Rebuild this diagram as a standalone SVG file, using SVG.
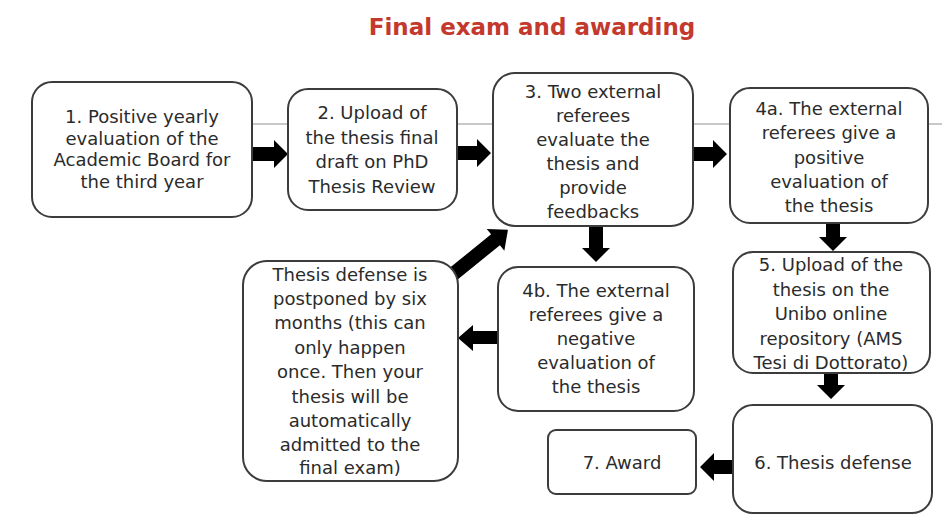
<svg xmlns="http://www.w3.org/2000/svg" width="942" height="515" viewBox="0 0 942 515">
<style>
.box{fill:#fff;stroke:#3c3c3c;stroke-width:2}
.t{font-family:"DejaVu Sans",sans-serif;font-size:18px;fill:#2b2b2b;text-anchor:middle}
.arr{fill:#000}
.title{font-family:"DejaVu Sans",sans-serif;font-weight:bold;font-size:23px;fill:#c4392d;text-anchor:middle}
</style>
<rect width="942" height="515" fill="#fff"/>
<line x1="252" y1="124" x2="942" y2="124" stroke="#c8c8c8" stroke-width="2"/>
<text class="title" x="532" y="35">Final exam and awarding</text>
<g id="connectors">
<polygon class="arr" points="252,147 274,147 274,140 288,154 274,168 274,161 252,161"/>
<polygon class="arr" points="457,146 477,146 477,139 491,153 477,167 477,160 457,160"/>
<polygon class="arr" points="693,147 713,147 713,140 727,154 713,168 713,161 693,161"/>
<polygon class="arr" points="826,223 840,223 840,237 847,237 833,251 819,237 826,237"/>
<polygon class="arr" points="589,226 603,226 603,248 610,248 596,262 582,248 589,248"/>
<polygon class="arr" points="498,331 473,331 473,325 458,338 473,351 473,344 498,344"/>
<polygon class="arr" points="824,373 838,373 838,385 845,385 831,399 817,385 824,385"/>
<polygon class="arr" points="733,460 714,460 714,453 700,467 714,481 714,474 733,474"/>
<polygon class="arr" transform="translate(452,275) rotate(-39)" points="0,-7 56,-7 56,-14 72,0 56,14 56,7 0,7"/>
</g>
<g id="n1">
<rect class="box" x="32" y="82" width="220" height="135" rx="20"/>
<text class="t"><tspan x="142" y="123">1. Positive yearly</tspan><tspan x="142" y="145">evaluation of the</tspan><tspan x="142" y="166">Academic Board for</tspan><tspan x="142" y="188">the third year</tspan></text>
</g>
<g id="n2">
<rect class="box" x="288" y="89" width="169" height="121" rx="20"/>
<text class="t"><tspan x="372" y="119">2. Upload of</tspan><tspan x="372" y="144">the thesis final</tspan><tspan x="372" y="168">draft on PhD</tspan><tspan x="372" y="193">Thesis Review</tspan></text>
</g>
<g id="n3">
<rect class="box" x="493" y="73" width="200" height="153" rx="22"/>
<text class="t"><tspan x="593" y="98">3. Two external</tspan><tspan x="593" y="122">referees</tspan><tspan x="593" y="146">evaluate the</tspan><tspan x="593" y="170">thesis and</tspan><tspan x="593" y="194">provide</tspan><tspan x="593" y="218">feedbacks</tspan></text>
</g>
<g id="n4a">
<rect class="box" x="730" y="88" width="198" height="135" rx="20"/>
<text class="t"><tspan x="829" y="115">4a. The external</tspan><tspan x="829" y="139">referees give a</tspan><tspan x="829" y="164">positive</tspan><tspan x="829" y="188">evaluation of</tspan><tspan x="829" y="212">the thesis</tspan></text>
</g>
<g id="n4b">
<rect class="box" x="498" y="267" width="196" height="144" rx="20"/>
<text class="t"><tspan x="596" y="297">4b. The external</tspan><tspan x="596" y="321">referees give a</tspan><tspan x="596" y="345">negative</tspan><tspan x="596" y="369">evaluation of</tspan><tspan x="596" y="393">the thesis</tspan></text>
</g>
<g id="npostponed">
<rect class="box" x="243" y="261" width="215" height="220" rx="24"/>
<text class="t"><tspan x="350" y="281">Thesis defense is</tspan><tspan x="350" y="305">postponed by six</tspan><tspan x="350" y="329">months (this can</tspan><tspan x="350" y="354">only happen</tspan><tspan x="350" y="378">once. Then your</tspan><tspan x="350" y="403">thesis will be</tspan><tspan x="350" y="427">automatically</tspan><tspan x="350" y="451">admitted to the</tspan><tspan x="350" y="474">final exam)</tspan></text>
</g>
<g id="n5">
<rect class="box" x="733" y="252" width="197" height="121" rx="20"/>
<text class="t"><tspan x="831" y="271">5. Upload of the</tspan><tspan x="831" y="296">thesis on the</tspan><tspan x="831" y="320">Unibo online</tspan><tspan x="831" y="345">repository (AMS</tspan><tspan x="831" y="369">Tesi di Dottorato)</tspan></text>
</g>
<g id="n6">
<rect class="box" x="733" y="405" width="199" height="108" rx="20"/>
<text class="t" x="833" y="469">6. Thesis defense</text>
</g>
<g id="n7">
<rect class="box" x="548" y="430" width="148" height="64" rx="8"/>
<text class="t" x="622" y="469">7. Award</text>
</g>
</svg>
